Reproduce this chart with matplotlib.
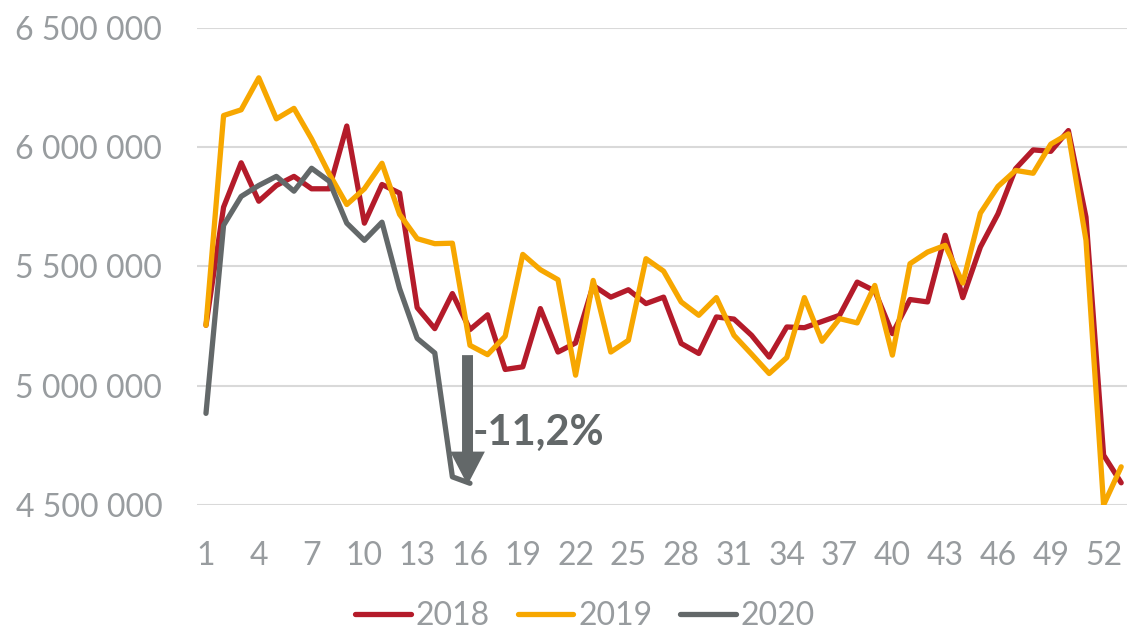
import numpy as np
import matplotlib
matplotlib.use('Agg')
import matplotlib.pyplot as plt

# weekly values
weeks = list(range(1, 54))

y2018 = [5253e3, 5748e3, 5934e3, 5773e3, 5839e3, 5877e3, 5825e3, 5825e3, 6088e3, 5681e3,
         5843e3, 5807e3, 5327e3, 5239e3, 5386e3, 5235e3, 5297e3, 5068e3, 5079e3, 5323e3,
         5141e3, 5179e3, 5420e3, 5371e3, 5402e3, 5344e3, 5371e3, 5177e3, 5135e3, 5288e3,
         5279e3, 5211e3, 5120e3, 5246e3, 5243e3, 5269e3, 5295e3, 5434e3, 5397e3, 5218e3,
         5361e3, 5351e3, 5630e3, 5369e3, 5581e3, 5720e3, 5909e3, 5988e3, 5982e3, 6069e3,
         5706e3, 4709e3, 4593e3]

y2019 = [5253e3, 6132e3, 6156e3, 6290e3, 6118e3, 6162e3, 6034e3, 5888e3, 5759e3, 5825e3,
         5932e3, 5718e3, 5616e3, 5595e3, 5597e3, 5169e3, 5130e3, 5207e3, 5550e3, 5486e3,
         5444e3, 5044e3, 5441e3, 5141e3, 5190e3, 5532e3, 5480e3, 5351e3, 5295e3, 5369e3,
         5211e3, 5132e3, 5051e3, 5118e3, 5369e3, 5186e3, 5281e3, 5263e3, 5420e3, 5128e3,
         5511e3, 5560e3, 5588e3, 5430e3, 5723e3, 5835e3, 5902e3, 5890e3, 6012e3, 6055e3,
         5609e3, 4500e3, 4660e3]

y2020 = [4884e3, 5672e3, 5793e3, 5839e3, 5877e3, 5815e3, 5911e3, 5857e3, 5681e3, 5609e3,
         5685e3, 5407e3, 5198e3, 5137e3, 4618e3, 4591e3]

series = [('2018', y2018, '#B41B2A'),
          ('2019', y2019, '#F7A700'),
          ('2020', y2020, '#636869')]

yticks = [4.5e6, 5.0e6, 5.5e6, 6.0e6, 6.5e6]
xticks = list(range(1, 54, 3))

# annotation of the drop
drop_label = '-11,2%'
drop_week = 16
drop_from = 5128e3
drop_to = 4584e3

grey_txt = '#989C9F'
plt.rcParams['font.family'] = ['Lato', 'DejaVu Sans']

fig = plt.figure(figsize=(11.27, 6.34), dpi=100)
ax = fig.add_axes([197/1127, 1-505/634, 930/1127, (505-27.7)/634])

for lab, vals, col in series:
    ax.plot(weeks[:len(vals)], vals, color=col, lw=3.8, label=lab,
            solid_joinstyle='round', solid_capstyle='round', zorder=3)

ax.set_ylim(4.5e6, 6.5e6)
ax.set_xlim(0.49, 53.33)
ax.set_yticks(yticks)
ax.set_yticklabels([f'{int(v):,}'.replace(',', ' ') for v in yticks])
ax.set_xticks(xticks)
ax.set_xticklabels([str(w) for w in xticks])
ax.grid(axis='y', color='#D9D9D9', lw=1.5, zorder=0)
for s in ax.spines.values():
    s.set_visible(False)
ax.tick_params(axis='both', length=0, labelsize=23, labelcolor=grey_txt)
ax.tick_params(axis='y', pad=25)
ax.tick_params(axis='x', pad=26)

ax.annotate('', xy=(drop_week - 0.14, drop_to), xytext=(drop_week - 0.14, drop_from),
            arrowprops=dict(width=7.9, headwidth=25, headlength=24, shrink=0,
                            facecolor='#636869', edgecolor='none'), zorder=4)
ax.text(drop_week + 0.17, 4.751e6, drop_label, fontsize=30, fontweight='bold',
        color='#636869', ha='left', va='baseline', zorder=5)

leg = fig.legend(loc='center', bbox_to_anchor=(585/1127, 1-616/634), ncol=3,
                 frameon=False, fontsize=23, handlelength=1.75, handletextpad=0.15,
                 columnspacing=0.87, borderpad=0, borderaxespad=0)
for t in leg.get_texts():
    t.set_color(grey_txt)
for h in leg.get_lines():
    h.set_linewidth(3.8)
    h.set_solid_capstyle('round')

fig.savefig('out.png', dpi=100)
